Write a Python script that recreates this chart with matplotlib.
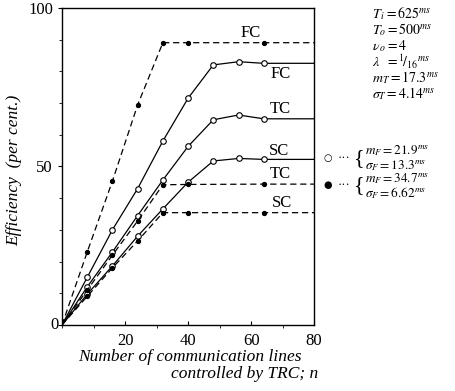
import matplotlib
matplotlib.use("Agg")
import matplotlib.pyplot as plt
import numpy as np

plt.rcParams['font.family'] = ['Liberation Serif', 'DejaVu Serif']
plt.rcParams['mathtext.fontset'] = 'stix'

# open circles (m_F = 21.9 ms), solid lines
n_open = [0, 8, 16, 24, 32, 40, 48, 56, 64, 80]
fc_open = [0, 15, 30, 43, 58, 71.5, 82, 83, 82.5, 82.5]
tc_open = [0, 12, 23, 34.5, 45.7, 56.3, 64.7, 66.2, 65, 65]
sc_open = [0, 9.7, 18.6, 28, 36.6, 45, 51.7, 52.5, 52.2, 52.2]

# filled dots (m_F = 34.7 ms), dashed lines
n_fill = [0, 8, 16, 24, 32, 40, 64, 80]
fc_fill = [0, 23, 45.4, 69.4, 89, 89, 89, 89]
tc_fill = [0, 11, 22, 32.8, 44.2, 44.3, 44.4, 44.4]
sc_fill = [0, 9, 18, 26.5, 35.4, 35.4, 35.4, 35.4]

# curve labels: (text, n, efficiency)
curve_labels = [('FC', 59.7, 92), ('FC', 69.2, 79.2), ('TC', 69.2, 68.1),
                ('SC', 68.9, 54.9), ('TC', 69.2, 47.6), ('SC', 69.8, 38.6)]

params = [r'$T_{\,i}=625^{ms}$', r'$T_{o}=500^{ms}$', r'$\nu_{\,o}=4$',
          r'$\lambda\ \ ={}^{1}\!/_{16}{}^{ms}$', r'$m_{T}=17.3^{ms}$',
          r'$\sigma_{T}=4.14^{ms}$']
open_stats = [r'$m_{F}=21.9^{ms}$', r'$\sigma_{F}=13.3^{ms}$']
fill_stats = [r'$m_{F}=34.7^{ms}$', r'$\sigma_{F}=6.62^{ms}$']

fig = plt.figure(figsize=(4.56, 3.91), dpi=100)
ax = fig.add_axes([0.136, 0.169, 0.553, 0.811])

for y in [fc_open, tc_open, sc_open]:
    ax.plot(n_open, y, '-', color='black', lw=0.9, marker='o', ms=4,
            mfc='white', mec='black', mew=0.8, markevery=range(1, len(n_open) - 1))
for y in [fc_fill, tc_fill, sc_fill]:
    ax.plot(n_fill, y, '--', color='black', lw=0.9, dashes=(5, 3), marker='o', ms=2.8,
            mfc='black', mec='black', markevery=range(1, len(n_fill) - 1))

for txt, x, y in curve_labels:
    ax.text(x, y, txt, ha='center', va='center', fontsize=12)

ax.set_xlim(0, 80)
ax.set_ylim(0, 100)
ax.set_xticks([20, 40, 60, 80])
ax.set_yticks([0, 50, 100])
ax.set_xticks(np.arange(0, 81, 10), minor=True)
ax.set_yticks(np.arange(0, 101, 10), minor=True)
ax.tick_params(axis='both', labelsize=12, length=3, width=0.8)
ax.tick_params(axis='x', direction='in', pad=6)
ax.tick_params(which='minor', length=2)
ax.text(-1, 0, '0', ha='right', va='center', fontsize=12)
ax.set_yticklabels(['', '50', '100'])
for s in ax.spines.values():
    s.set_linewidth(1.0)

fig.text(14 / 456, 1 - 170 / 391, 'Efficiency  (per cent.)', fontstyle='italic',
         fontsize=12.5, rotation=90, ha='center', va='center')
fig.text(190 / 456, 1 - 357 / 391, 'Number of communication lines', fontstyle='italic',
         fontsize=12.5, ha='center', va='center')
fig.text(318 / 456, 1 - 374 / 391, 'controlled by TRC; n', fontstyle='italic',
         fontsize=12.5, ha='right', va='center')

ys = [14, 30, 46, 62, 78, 94]
for t, y in zip(params, ys):
    fig.text(372 / 456, 1 - y / 391, t, fontsize=10, va='center')

fig.text(328 / 456, 1 - 158 / 391, '○', fontsize=7, ha='center', va='center',
         family='DejaVu Sans')
fig.text(344 / 456, 1 - 158 / 391, '···', fontsize=9, ha='center', va='center')
fig.text(359 / 456, 1 - 159 / 391, '{', fontsize=16, ha='center', va='center')
fig.text(365 / 456, 1 - 158 / 391, '\n'.join(open_stats), fontsize=9.5,
         va='center', linespacing=1.0)

fig.text(328 / 456, 1 - 185 / 391, '●', fontsize=7, ha='center', va='center',
         family='DejaVu Sans')
fig.text(344 / 456, 1 - 185 / 391, '···', fontsize=9, ha='center', va='center')
fig.text(359 / 456, 1 - 186 / 391, '{', fontsize=16, ha='center', va='center')
fig.text(365 / 456, 1 - 186 / 391, '\n'.join(fill_stats), fontsize=9.5,
         va='center', linespacing=1.0)

fig.savefig('out.png', dpi=100)
